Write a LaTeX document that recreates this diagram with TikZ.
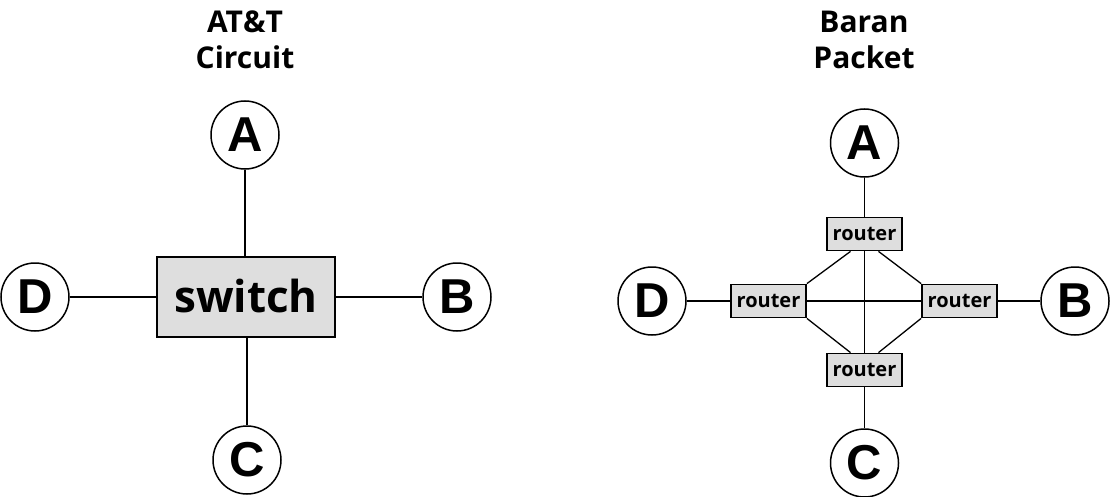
\documentclass[tikz,border=0pt]{standalone}
\usepackage{fontspec}
\setmainfont{Open Sans}
\newfontfamily\letterfont{Liberation Sans}
\begin{document}
\begin{tikzpicture}[x=1pt,y=-1pt,
  endpt/.style={draw,circle,line width=1.5pt,minimum size=68pt,inner sep=0pt,
    font=\letterfont\bfseries\fontsize{49}{49}\selectfont},
  switchbox/.style={draw,fill=black!13,line width=2pt,minimum width=178pt,minimum height=80pt,inner sep=0pt,
    font=\bfseries\fontsize{44}{44}\selectfont},
  routerbox/.style={draw,fill=black!13,line width=1.8pt,minimum width=75pt,minimum height=33pt,inner sep=0pt,
    font=\bfseries\fontsize{20}{20}\selectfont},
  title/.style={align=center,font=\bfseries\fontsize{30}{36}\selectfont},
  link/.style={line width=1.3pt}]
\useasboundingbox (0,0) rectangle (1110,497);
% left
\node[title] (t1) at (245,40) {AT\&T\\Circuit};
\node[switchbox] (sw) at (246,297) {\raisebox{2pt}{switch}};
\node[endpt] (A1) at (245,135) {A};
\node[endpt] (D1) at (35,297) {D};
\node[endpt] (B1) at (457,297) {B};
\node[endpt] (C1) at (247,460) {C};
\draw[link] (A1) -- (A1 |- sw.north);
\draw[link] (D1) -- (sw);
\draw[link] (sw) -- (B1);
\draw[link] (C1 |- sw.south) -- (C1);
% right
\node[title] (t2) at (864,40) {Baran\\Packet};
\node[routerbox] (rt) at (864.5,234) {router};
\node[routerbox] (rl) at (768.5,301) {router};
\node[routerbox] (rr) at (959.5,301) {router};
\node[routerbox] (rb) at (864.5,370) {router};
\node[endpt] (A2) at (864.5,143) {A};
\node[endpt] (D2) at (652,301) {D};
\node[endpt] (B2) at (1075,301) {B};
\node[endpt] (C2) at (864.5,463) {C};
\draw[link] (A2) -- (rt);
\draw[link] (D2) -- (rl);
\draw[link] (rr) -- (B2);
\draw[link] (rb) -- (C2);
\draw[link] (rt) -- (rb);
\draw[link] (rl) -- (rr);
\draw[link] ([xshift=-14pt]rt.south) -- (rl.north east);
\draw[link] ([xshift=14pt]rt.south) -- (rr.north west);
\draw[link] (rl.south east) -- ([xshift=-14pt]rb.north);
\draw[link] (rr.south west) -- ([xshift=14pt]rb.north);
\end{tikzpicture}
\end{document}
